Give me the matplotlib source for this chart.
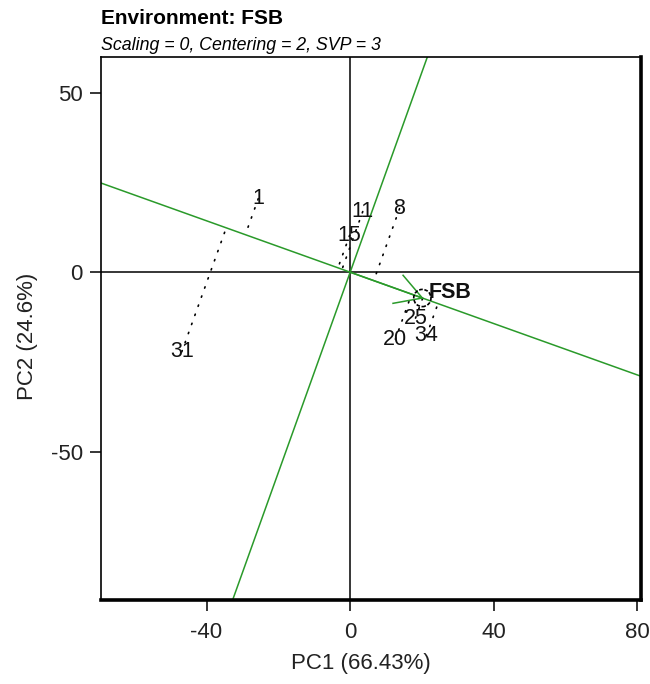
import numpy as np
import matplotlib
matplotlib.use("Agg")
import matplotlib.pyplot as plt
from matplotlib.patches import Circle

plt.rcParams['font.family'] = ['Liberation Sans', 'DejaVu Sans']
plt.rcParams['axes.unicode_minus'] = False

# Genotype scores on the first two principal components
genotypes = ["1", "11", "8", "15", "31", "25", "20", "34"]
pc1 = [-25.6, 3.5, 13.75, -0.14, -46.9, 18.2, 12.6, 21.25]
pc2 = [20.5, 16.9, 17.7, 10.3, -22.2, -12.8, -18.7, -17.7]

# Environment score
env_name = "FSB"
env_pc1 = 20.1
env_pc2 = -7.2

title = "Environment: FSB"
subtitle = "Scaling = 0, Centering = 2, SVP = 3"
xlabel = "PC1 (66.43%)"
ylabel = "PC2 (24.6%)"
xticks = [-40, 0, 40, 80]
yticks = [-50, 0, 50]

W, H = 650, 684
fig = plt.figure(figsize=(W / 100, H / 100), dpi=100)
ax = fig.add_axes([101 / W, (H - 600) / H, 540 / W, 543 / H])
ax.set_xlim(-69.4, 81.0)
ax.set_ylim(-91.4, 60.0)

green = "#2a9a2a"

# Reference axes through the origin
ax.axhline(0, color="black", lw=1.1, zorder=1)
ax.axvline(0, color="black", lw=1.1, zorder=1)

# Environment axis and its perpendicular through the origin
ax.axline((0, 0), (env_pc1, env_pc2), color=green, lw=1.1, zorder=2)
ax.axline((0, 0), (-env_pc2, env_pc1), color=green, lw=1.1, zorder=2)

# Projections of genotypes onto the environment axis
u = np.array([env_pc1, env_pc2]) / np.hypot(env_pc1, env_pc2)
for x, y in zip(pc1, pc2):
    d = x * u[0] + y * u[1]
    px, py = d * u
    ax.plot([x, px], [y, py], color="black", lw=1.2,
            linestyle=(0, (0.8, 5.0)), dash_capstyle="round", zorder=3)

# Arrow from origin to the environment
ax.plot([0, env_pc1], [0, env_pc2], color=green, lw=1.1, zorder=4)
back = -u
blen = 8.3
for ang in (np.deg2rad(30), np.deg2rad(-30)):
    c, s = np.cos(ang), np.sin(ang)
    bx = back[0] * c - back[1] * s
    by = back[0] * s + back[1] * c
    ax.plot([env_pc1, env_pc1 + blen * bx], [env_pc2, env_pc2 + blen * by],
            color=green, lw=1.1, zorder=4)

ax.add_patch(Circle((env_pc1, env_pc2), 2.4, fill=False, edgecolor="black",
                    lw=1.2, linestyle=(0, (2.2, 1.0)), zorder=7))

# Genotype labels
for name, x, y in zip(genotypes, pc1, pc2):
    ax.text(x, y, name, ha="center", va="center", fontsize=15.5,
            color="#111111", zorder=6)

ax.annotate(env_name, (env_pc1, env_pc2), xytext=(20, 4),
            textcoords="offset points", ha="center", va="center",
            fontsize=15.5, fontweight="bold", color="#111111", zorder=6)

# Frame
for side, w in (("left", 1.2), ("top", 1.2), ("right", 2.6), ("bottom", 2.6)):
    ax.spines[side].set_linewidth(w)
    ax.spines[side].set_color("black")

ax.set_xticks(xticks)
ax.set_yticks(yticks)
ax.tick_params(axis="both", direction="out", length=8, width=1.1,
               labelsize=16, pad=5, colors="black")
ax.tick_params(axis="x", pad=8)
for lab in ax.get_xticklabels() + ax.get_yticklabels():
    lab.set_color("#222222")

fig.text(361 / W, 1 - 663 / H, xlabel, ha="center", va="center",
         fontsize=16, color="#222222")
fig.text(28 / W, 1 - 336 / H, ylabel, ha="center", va="center",
         rotation=90, fontsize=16, color="#222222")

fig.text(101 / W, 1 - 18 / H, title, ha="left", va="center",
         fontsize=15, fontweight="bold", color="black")
fig.text(101 / W, 1 - 45 / H, subtitle, ha="left", va="center",
         fontsize=12.8, style="italic", color="black")

fig.savefig("out.png", dpi=100)
